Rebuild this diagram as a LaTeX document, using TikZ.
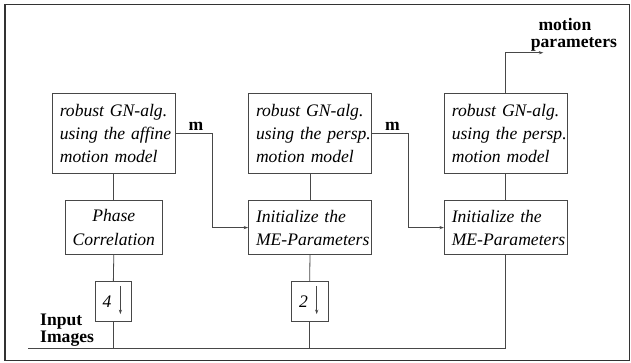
\documentclass[tikz,border=0pt]{standalone}
\usepackage{fontspec}
\setmainfont{Liberation Serif}
\usetikzlibrary{arrows.meta}
\begin{document}
\begin{tikzpicture}[x=1pt,y=-1pt,
  ink/.style={draw=black!72,line width=0.8pt},
  proc/.style={ink,minimum width=123pt,minimum height=80pt,inner xsep=7.5pt,inner ysep=0pt,
    text width=108pt,align=left,font=\fontsize{17.6}{23}\selectfont\itshape},
  initbox/.style={proc,minimum height=54pt},
  phasebox/.style={ink,minimum width=97.7pt,minimum height=53.6pt,inner sep=0pt,
    align=center,font=\fontsize{17.6}{23.5}\selectfont\itshape},
  downbox/.style={ink,minimum width=36.7pt,minimum height=40pt,inner sep=0pt},
  digit/.style={inner sep=0pt,font=\fontsize{17.6}{20}\selectfont\itshape},
  tag/.style={inner sep=0pt,anchor=base west,font=\fontsize{17.6}{20}\selectfont\bfseries},
  pairtag/.style={inner sep=0pt,anchor=north west,align=left,
    font=\fontsize{17.6}{17}\selectfont\bfseries},
  conn/.style={draw=black!72,line width=0.8pt},
  tip/.style={-{Stealth[length=4.5pt,width=3.2pt]}}]
\useasboundingbox (0,0) rectangle (631,362);
% outer frame
\draw[black!80,line width=1.6pt] (5,4.3) rectangle (629.5,360.5);

% upper row: estimation stages
\node[proc] (b1) at (113.8,133.3) {\mbox{robust GN-alg.}\\\mbox{using the affine}\\\mbox{motion model}};
\node[proc] (b2) at (310,133.3) {\mbox{robust GN-alg.}\\\mbox{using the persp.}\\\mbox{motion model}};
\node[proc] (b3) at (505.8,133.3) {\mbox{robust GN-alg.}\\\mbox{using the persp.}\\\mbox{motion model}};

% lower row: initialisation stages
\node[phasebox] (pc) at (113.8,227.5) {Phase\\Correlation};
\node[initbox] (i2) at (310,227.6) {\mbox{Initialize the}\\\mbox{ME-Parameters}};
\node[initbox] (i3) at (505.8,227.6) {\mbox{Initialize the}\\\mbox{ME-Parameters}};

% downsampling blocks
\node[downbox] (d4) at (113.35,301.7) {};
\node[downbox] (d2) at (309.65,301.7) {};
\node[digit] (n4) at ([xshift=12.5pt]d4.west) {4};
\node[digit] (n2) at ([xshift=12.5pt]d2.west) {2};
\draw[conn,tip] ([xshift=-11.7pt,yshift=-4.5pt]d4.north east) -- ([xshift=-11.7pt,yshift=8pt]d4.south east);
\draw[conn,tip] ([xshift=-11.7pt,yshift=-4.5pt]d2.north east) -- ([xshift=-11.7pt,yshift=8pt]d2.south east);

% input image line
\coordinate (inL) at (28,348.3);
\coordinate (out) at (543.3,52.7);
\draw[conn] (i3.south) |- (inL);
\draw[conn] (d4.south) -- (d4.south |- inL);
\draw[conn] (d2.south) -- (d2.south |- inL);

% vertical links
\draw[conn] (b1.south) -- (pc.north);
\draw[conn] (pc.south) -- (d4.north);
\draw[conn] (b2.south) -- (i2.north);
\draw[conn] (i2.south) -- (d2.north);
\draw[conn] (b3.south) -- (i3.north);

% parameter hand-over
\draw[conn,tip] (b1.east) -- ++(36.7,0) |- (i2.west);
\draw[conn,tip] (b2.east) -- ++(36.7,0) |- (i3.west);
\draw[conn,tip] (b3.north) |- (out);

% labels
\node[tag] (m1) at (188.3,130.7) {m};
\node[tag] (m2) at (385,130.7) {m};
\node[pairtag] (mp) at (530.7,18.3) {\hspace*{7.6pt}motion\\parameters};
\node[pairtag] (ip) at (40,313.6) {Input\\Images};
\end{tikzpicture}
\end{document}
